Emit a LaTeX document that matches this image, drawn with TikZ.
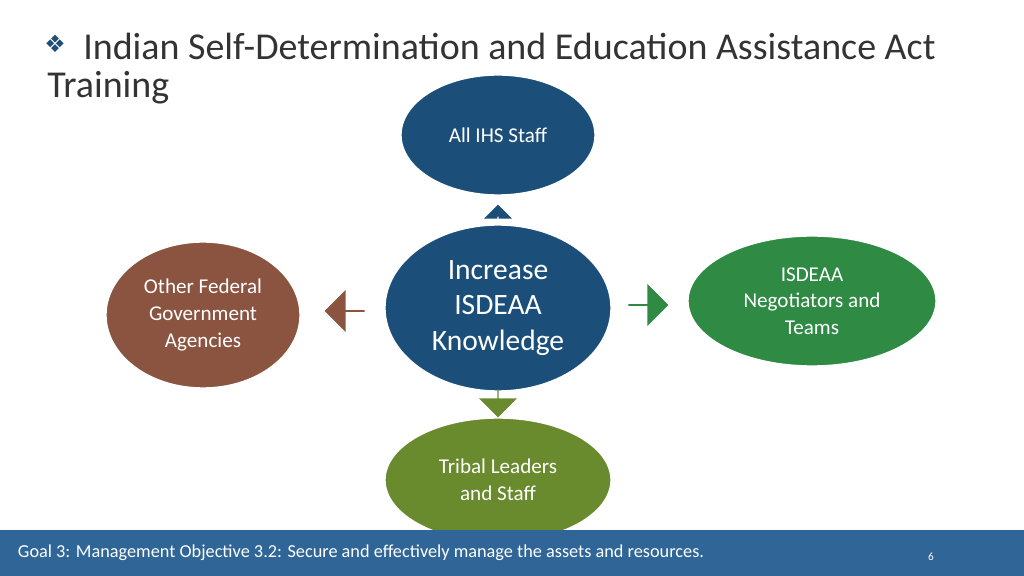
\documentclass[tikz,border=0pt]{standalone}
\usepackage{fontspec}
\setmainfont{Carlito}
\newfontfamily\symfont{DejaVu Sans}
\usetikzlibrary{shapes.geometric,shapes.arrows}
\definecolor{ihsblue}{HTML}{1B4F7A}
\definecolor{ihsbrown}{HTML}{8B5441}
\definecolor{ihsgreen}{HTML}{2F8A44}
\definecolor{ihsolive}{HTML}{6A8A2E}
\definecolor{barblue}{HTML}{2F6597}
\definecolor{titleblue}{HTML}{1F4E79}
\begin{document}
\begin{tikzpicture}[x=0.025cm,y=-0.025cm,
  bubble/.style={ellipse, draw=white, line width=1pt, text=white, align=center,
    font=\fontsize{15}{19}\selectfont, inner sep=0pt},
  blockarrow/.style={single arrow, single arrow head extend=5pt, inner sep=0pt,
    draw=none}
]
\useasboundingbox (0,0) rectangle (1024,576);
% title
\node[anchor=west, text=titleblue, font=\symfont\fontsize{17}{17}\selectfont, inner sep=0pt] (bul) at (44,44) {❖};
\node[anchor=west, text=black!80, font=\fontsize{27}{33}\selectfont, inner sep=0pt] (title) at (83,46)
  {Indian Self-Determination and Education Assistance Act};
\node[anchor=west, text=black!80, font=\fontsize{27}{33}\selectfont, inner sep=0pt] (title2) at (47,88) {Training};
% bubbles
\node[bubble, fill=ihsblue, minimum width=194\pgflinewidth*0+4.85cm, minimum height=3cm] (staff) at (498,135) {All IHS Staff};
\node[bubble, fill=ihsblue, minimum width=5.65cm, minimum height=4.15cm,
  font=\fontsize{21}{25}\selectfont] (know) at (498,308) {Increase\\ISDEAA\\Knowledge};
\node[bubble, fill=ihsgreen, minimum width=6.2cm, minimum height=3.25cm] (nego) at (812,301) {ISDEAA\\Negotiators and\\Teams};
\node[bubble, fill=ihsbrown, minimum width=4.85cm, minimum height=3.65cm] (fed) at (203,315) {Other Federal\\Government\\Agencies};
\node[bubble, fill=ihsolive, minimum width=5.65cm, minimum height=3.1cm] (tribal) at (498,480) {Tribal Leaders\\and Staff};
% arrows
\node[blockarrow, fill=ihsblue, shape border rotate=90, minimum width=0.7cm, minimum height=0.3cm] (up) at (498,211) {};
\node[blockarrow, fill=ihsbrown, shape border rotate=180, minimum width=1.05cm, minimum height=1cm] (left) at (345,311) {};
\node[blockarrow, fill=ihsgreen, minimum width=1.05cm, minimum height=1cm] (right) at (648,305) {};
\node[blockarrow, fill=ihsolive, shape border rotate=270, minimum width=0.95cm, minimum height=0.7cm] (down) at (498,403) {};
% footer
\fill[barblue] (0,530) rectangle (1024,576);
\node[anchor=west, text=white, font=\fontsize{13}{15}\selectfont] (goal) at (13,553)
  {Goal 3: Management Objective 3.2: Secure and effectively manage the assets and resources.};
\node[text=white, font=\fontsize{8}{10}\selectfont] (page) at (931,557) {6};
\end{tikzpicture}
\end{document}
